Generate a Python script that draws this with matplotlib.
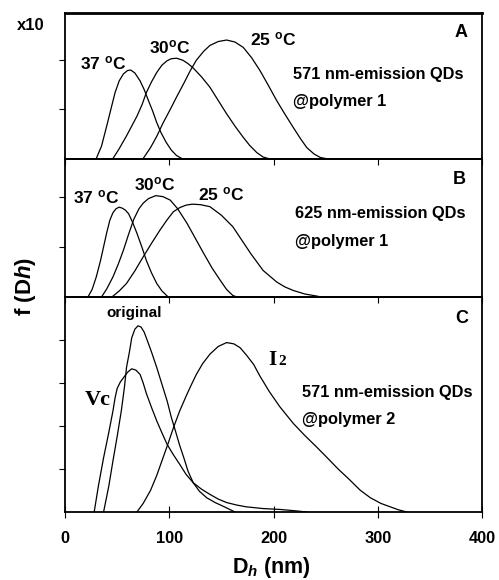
import matplotlib
matplotlib.use("Agg")
import matplotlib.pyplot as plt

plt.rcParams['font.family'] = ['Liberation Sans', 'DejaVu Sans']
plt.rcParams['font.weight'] = 'bold'
plt.rcParams['mathtext.fontset'] = 'custom'
plt.rcParams['mathtext.rm'] = 'Liberation Sans:bold'
plt.rcParams['mathtext.it'] = 'Liberation Sans:italic:bold'
plt.rcParams['mathtext.bf'] = 'Liberation Sans:bold'

# ---- Panel A: 571 nm-emission QDs @polymer 1 ----
a37_x = [30, 35, 40, 44, 48, 52, 56, 60, 63, 67, 72, 76, 80, 84, 88, 92, 97, 102, 107, 112]
a37_y = [0.0, 0.25, 0.66, 1.0, 1.34, 1.58, 1.72, 1.79, 1.80, 1.74, 1.58, 1.40, 1.18, 0.97,
         0.73, 0.53, 0.33, 0.17, 0.06, 0.0]
a30_x = [46, 52, 59, 64, 69, 74, 78, 83, 88, 93, 98, 102, 107, 113, 118, 123, 131, 139, 147,
         155, 163, 171, 177, 184, 190, 195]
a30_y = [0.0, 0.2, 0.46, 0.66, 0.86, 1.1, 1.34, 1.56, 1.75, 1.90, 1.99, 2.03, 2.04, 2.0, 1.93,
         1.84, 1.66, 1.45, 1.18, 0.91, 0.66, 0.43, 0.27, 0.12, 0.03, 0.0]
a25_x = [75, 82, 88, 94, 101, 107, 114, 120, 126, 133, 139, 147, 155, 163, 171, 179, 187, 195,
         203, 211, 219, 226, 232, 239, 245, 250]
a25_y = [0.0, 0.22, 0.45, 0.72, 1.0, 1.25, 1.53, 1.78, 2.0, 2.18, 2.3, 2.38, 2.41, 2.37, 2.26,
         2.05, 1.79, 1.49, 1.18, 0.90, 0.63, 0.40, 0.22, 0.09, 0.02, 0.0]

# ---- Panel B: 625 nm-emission QDs @polymer 1 ----
b37_x = [22, 26, 30, 34, 37, 40, 43, 46, 49, 52, 55, 58, 61, 65, 69, 74, 78, 83, 88, 93, 99]
b37_y = [0.0, 0.15, 0.40, 0.72, 1.0, 1.28, 1.53, 1.68, 1.76, 1.79, 1.77, 1.73, 1.66, 1.48,
         1.27, 0.98, 0.73, 0.48, 0.27, 0.12, 0.0]
b30_x = [35, 40, 46, 51, 56, 61, 66, 71, 75, 80, 87, 94, 101, 108, 117, 125, 133, 141, 149,
         155, 161, 165]
b30_y = [0.0, 0.16, 0.40, 0.65, 0.93, 1.25, 1.55, 1.76, 1.87, 1.96, 2.02, 2.0, 1.93, 1.76,
         1.47, 1.17, 0.87, 0.58, 0.33, 0.15, 0.03, 0.0]
b25_x = [45, 52, 59, 67, 75, 83, 91, 98, 104, 110, 116, 122, 130, 139, 150, 161, 170, 178,
         190, 203, 211, 219, 230, 241, 246]
b25_y = [0.0, 0.12, 0.27, 0.52, 0.80, 1.07, 1.33, 1.54, 1.70, 1.78, 1.83, 1.85, 1.84, 1.80,
         1.63, 1.40, 1.12, 0.87, 0.53, 0.30, 0.20, 0.13, 0.06, 0.02, 0.0]

# ---- Panel C: 571 nm-emission QDs @polymer 2 ----
orig_x = [37, 42, 46, 50, 54, 57, 59, 62, 64, 67, 70, 73, 76, 78, 83, 88, 93, 98, 102, 106,
          110, 114, 118, 123, 129, 136, 144, 152, 158, 163]
orig_y = [0.0, 0.6, 1.19, 1.75, 2.35, 2.9, 3.36, 3.75, 4.05, 4.25, 4.33, 4.3, 4.18, 4.05,
          3.72, 3.36, 2.97, 2.58, 2.2, 1.88, 1.55, 1.26, 0.95, 0.68, 0.48, 0.33, 0.22, 0.13,
          0.06, 0.0]
vc_x = [28, 32, 37, 42, 46, 48, 50, 53, 56, 60, 64, 68, 72, 75, 78, 83, 88, 93, 98, 104, 110,
        116, 123, 131, 139, 147, 155, 165, 174, 190, 206, 220, 232]
vc_y = [0.0, 0.6, 1.26, 1.85, 2.35, 2.65, 2.87, 3.02, 3.12, 3.25, 3.33, 3.30, 3.2, 3.0, 2.76,
        2.43, 2.12, 1.84, 1.57, 1.33, 1.11, 0.88, 0.68, 0.53, 0.41, 0.3, 0.22, 0.16, 0.12,
        0.08, 0.06, 0.03, 0.0]
i2_x = [69, 75, 82, 88, 94, 99, 104, 110, 117, 122, 126, 132, 139, 147, 155, 162, 168, 174,
        181, 187, 196, 206, 219, 230, 241, 252, 262, 273, 283, 293, 303, 312, 320, 328]
i2_y = [0.0, 0.2, 0.5, 0.85, 1.26, 1.6, 1.96, 2.35, 2.74, 3.0, 3.2, 3.45, 3.67, 3.85, 3.94,
        3.91, 3.82, 3.65, 3.43, 3.16, 2.8, 2.45, 2.06, 1.78, 1.52, 1.25, 1.0, 0.75, 0.51, 0.33,
        0.2, 0.12, 0.05, 0.0]

x_ticks = [0, 100, 200, 300, 400]
x_ticklabels = ['0', '100', '200', '300', '400']

fig = plt.figure(figsize=(4.99, 5.80), dpi=100)
L, W = 65 / 499, 417 / 499
def box(top_px, bot_px):
    return [L, 1 - bot_px / 580, W, (bot_px - top_px) / 580]

axA = fig.add_axes(box(13, 158.5))
axB = fig.add_axes(box(158.5, 297))
axC = fig.add_axes(box(297, 512))

lw = 0.9
for ax, xs, ys in ((axA, a37_x, a37_y), (axA, a30_x, a30_y), (axA, a25_x, a25_y),
                   (axB, b37_x, b37_y), (axB, b30_x, b30_y), (axB, b25_x, b25_y),
                   (axC, orig_x, orig_y), (axC, vc_x, vc_y), (axC, i2_x, i2_y)):
    ax.plot(xs, ys, color='black', lw=lw, solid_joinstyle='round')

axA.set_ylim(0, 2.96)
axB.set_ylim(0, 2.76)
axC.set_ylim(0, 5.0)
axA.set_yticks([1, 2])
axB.set_yticks([1, 2])
axC.set_yticks([1, 2, 3, 4])

for ax in (axA, axB, axC):
    ax.set_xlim(0, 400)
    ax.set_xticks(x_ticks)
    ax.set_yticklabels([])
    ax.tick_params(axis='y', direction='out', length=4, width=0.8)
    for s in ax.spines.values():
        s.set_linewidth(1.3)
        s.set_color('black')
    ax.patch.set_alpha(0)

axA.spines['top'].set_linewidth(2.0)
for ax in (axA, axB):
    ax.set_xticklabels([])
    ax.tick_params(axis='x', direction='out', length=4, width=0.8)
axC.set_xticklabels(x_ticklabels)
axC.tick_params(axis='x', direction='inout', length=8, width=0.8, labelsize=11.8, pad=10)
for t in axC.get_xticklabels():
    t.set_fontweight('bold')

ser = ['Liberation Serif', 'DejaVu Serif']

# Panel A annotations
kw = dict(fontsize=12.5, fontweight='bold', ha='center', va='center')
axA.text(37, 1.94, r'37 $^{\rm o}$C', **kw)
axA.text(100, 2.27, r'30$^{\rm o}$C', **kw)
axA.text(200, 2.42, r'25 $^{\rm o}$C', **kw)
axA.text(380, 2.56, 'A', fontsize=13, fontweight='bold', ha='center', va='center')
axA.text(218.5, 1.70, '571 nm-emission QDs', fontsize=11.8, fontweight='bold', ha='left', va='center')
axA.text(218.5, 1.16, '@polymer 1', fontsize=11.8, fontweight='bold', ha='left', va='center')
fig.text(31 / 499, 1 - 26 / 580, 'x10', fontsize=12, fontweight='bold', ha='center', va='center')

# Panel B annotations
axB.text(29.7, 1.99, r'37 $^{\rm o}$C', **kw)
axB.text(86, 2.25, r'30$^{\rm o}$C', **kw)
axB.text(150, 2.05, r'25 $^{\rm o}$C', **kw)
axB.text(378, 2.35, 'B', fontsize=13, fontweight='bold', ha='center', va='center')
axB.text(220.5, 1.67, '625 nm-emission QDs', fontsize=11.8, fontweight='bold', ha='left', va='center')
axB.text(220.5, 1.10, '@polymer 1', fontsize=11.8, fontweight='bold', ha='left', va='center')

# Panel C annotations
axC.text(66.7, 4.63, 'original', fontsize=11, fontweight='bold', ha='center', va='center')
axC.text(19, 2.48, 'Vc', fontsize=16, fontweight='bold', ha='left', va='baseline', family=ser)
axC.text(194.5, 3.42, 'I', fontsize=15, fontweight='bold', ha='left', va='baseline', family=ser)
axC.text(204.5, 3.42, '2', fontsize=11, fontweight='bold', ha='left', va='baseline', family=ser)
axC.text(381, 4.5, 'C', fontsize=13, fontweight='bold', ha='center', va='center')
axC.text(227, 2.79, '571 nm-emission QDs', fontsize=11.8, fontweight='bold', ha='left', va='center')
axC.text(227, 2.16, '@polymer 2', fontsize=11.8, fontweight='bold', ha='left', va='center')

fig.text(26 / 499, 1 - 287 / 580, r'f (D$\it{h}$)', fontsize=16, fontweight='bold',
         rotation=90, ha='center', va='center')
fig.text(271 / 499, 1 - 568 / 580, r'D$_{\it{h}}$ (nm)', fontsize=15.5, fontweight='bold',
         ha='center', va='center')

fig.savefig('out.png', dpi=100)
